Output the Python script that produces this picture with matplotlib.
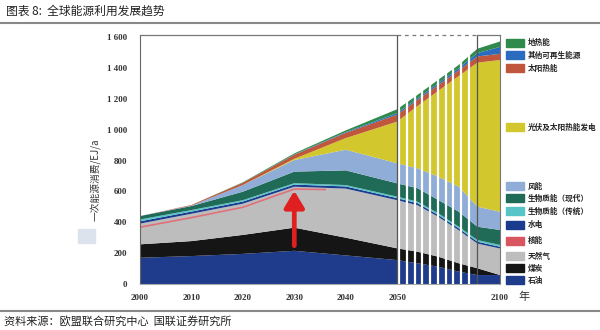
import numpy as np
import matplotlib
matplotlib.use("Agg")
import matplotlib.pyplot as plt
from matplotlib.patches import Rectangle
from matplotlib.lines import Line2D

plt.rcParams['font.family'] = ['Noto Sans CJK SC', 'DejaVu Sans']

# ---------------- data ----------------
years = [2000, 2010, 2020, 2030, 2040, 2050, 2060, 2070, 2080, 2089, 2100]
oil        = [170, 181, 195, 215, 185, 155, 134, 112, 80, 58, 58]
coal       = [87, 97, 123, 150, 115, 76, 75, 65, 54, 44, 0]
gas        = [134, 177, 202, 265, 318, 312, 301, 258, 214, 160, 172]
hydro      = [15, 14, 14, 14, 14, 13, 13, 12, 12, 12, 11]
trad_bio   = [12, 10, 9, 9, 9, 10, 10, 11, 11, 11, 12]
mod_bio    = [22, 26, 55, 75, 95, 86, 87, 86, 97, 86, 97]
wind       = [0, 3, 43, 75, 134, 130, 129, 151, 162, 130, 118]
pv         = [0, 0, 0, 8, 75, 270, 405, 556, 718, 933, 983]
solar_heat = [0, 4, 15, 26, 34, 45, 40, 38, 36, 40, 40]
other_ren  = [0, 0, 0, 2, 5, 10, 10, 12, 14, 22, 45]
geo        = [0, 0, 3, 7, 11, 25, 22, 22, 22, 28, 35]

nuclear_years = [2000, 2010, 2020, 2030, 2036]
nuclear_line  = [368, 430, 497, 615, 612]

arrow_year = 2030
arrow_from, arrow_to = 230, 622

yticks = [0, 200, 400, 600, 800, 1000, 1200, 1400, 1600]
ytick_labels = ['0', '200', '400', '600', '800', '1 000', '1 200', '1 400', '1 600']
xticks = [2000, 2010, 2020, 2030, 2040, 2050, 2100]
xtick_labels = ['2000', '2010', '2020', '2030', '2040', '2050', '2100']

names = ['石油', '煤炭', '天然气', '水电', '生物质能（传统）', '生物质能（现代）', '风能',
         '光伏及太阳热能发电', '太阳热能', '其他可再生能源', '地热能']
colors = ['#1f3c8c', '#151515', '#bdbdbd', '#1b3b8e', '#57c4c8', '#1f6b57', '#8fadd6',
          '#d3c72e', '#c0573c', '#2a6cbf', '#2f8a4c']
series = [oil, coal, gas, hydro, trad_bio, mod_bio, wind, pv, solar_heat, other_ren, geo]

# ---------------- figure ----------------
fig = plt.figure(figsize=(6, 3.3), dpi=100)
ax = fig.add_axes([140/600, 1-284/330, 360/600, 249/330])

def fwd(x):
    x = np.asarray(x, dtype=float)
    return np.where(x <= 2050, x, 2050 + (x - 2050) * 0.4)

def inv(y):
    y = np.asarray(y, dtype=float)
    return np.where(y <= 2050, y, 2050 + (y - 2050) / 0.4)

ax.set_xscale('function', functions=(fwd, inv))
ax.stackplot(years, *series, colors=colors, linewidth=0)
ax.plot(nuclear_years, nuclear_line, color='#e0707a', lw=1.2)

ax.annotate('', xy=(arrow_year, arrow_to), xytext=(arrow_year, arrow_from),
            arrowprops=dict(arrowstyle='-|>,head_width=0.6,head_length=1.0',
                            color='#e02020', lw=3.4))

# white stripes between 2050 and 2089
for s in np.arange(2051, 2087, 3.76):
    ax.axvline(s, color='white', lw=1.6, zorder=3)
ax.axvline(2050, color='#555555', lw=0.9, zorder=4)
ax.axvline(2089, color='#555555', lw=0.9, zorder=4)

ax.set_xlim(2000, 2100)
ax.set_ylim(0, 1613)

ax.spines['top'].set_visible(False)
ax.spines['left'].set_color('#666666')
ax.spines['bottom'].set_color('#aaaaaa')
ax.spines['right'].set_color('#777777')
ax.spines['right'].set_linewidth(0.8)
ax.plot([2000, 2050], [1613, 1613], color='#777777', lw=0.9, clip_on=False, zorder=5)
ax.plot([2050, 2089], [1613, 1613], color='#777777', lw=0.9, ls=(0, (3, 3)), clip_on=False, zorder=5)
ax.plot([2089, 2100], [1613, 1613], color='#777777', lw=0.9, clip_on=False, zorder=5)

ax.set_yticks(yticks)
ax.set_yticklabels(ytick_labels, family='Liberation Serif', fontsize=6.5, fontweight='bold', color='#333333')
ax.set_xticks(xticks)
ax.set_xticklabels(xtick_labels, family='Liberation Serif', fontsize=6.5, fontweight='bold', color='#333333')
ax.tick_params(axis='y', length=0, pad=9)
ax.tick_params(axis='x', length=0, pad=7)
ax.minorticks_off()

fig.text(518/600, 1-297/330, '年', fontsize=8, va='center', ha='left', color='#333333')

ax.set_ylabel('一次能源消费/EJ/a', fontsize=7, color='#333333')
ax.yaxis.set_label_coords(-0.11, 0.42)

# legend
leg_y = [43, 55, 68, 127, 186, 198, 211, 225, 241, 256, 268, 280]
leg_items = [('地热能', '#2f8a4c'), ('其他可再生能源', '#2a6cbf'), ('太阳热能', '#c0573c'),
             ('光伏及太阳热能发电', '#d3c72e'), ('风能', '#8fadd6'), ('生物质能（现代）', '#1f6b57'),
             ('生物质能（传统）', '#57c4c8'), ('水电', '#1b3b8e'), ('核能', '#d9555f'),
             ('天然气', '#bdbdbd'), ('煤炭', '#151515'), ('石油', '#1f3c8c')]
for yy, (lab, c) in zip(leg_y, leg_items):
    fig.patches.append(Rectangle((506/600, 1-(yy+4)/330), 18/600, 8/330,
                                 transform=fig.transFigure, color=c))
    fig.text(528/600, 1-yy/330, lab, fontsize=5.5, fontweight='bold', va='center', ha='left', color='#222222')

# light square artifact
fig.patches.append(Rectangle((78/600, 1-243/330), 17/600, 14/330, transform=fig.transFigure, color='#dde3ec'))

# title / source and rules
fig.text(6/600, 1-11/330, '图表 8:  全球能源利用发展趋势', fontsize=8.5, va='center', ha='left', color='#222222')
fig.lines.append(Line2D([0, 1], [1-23/330, 1-23/330], transform=fig.transFigure, color='#888888', lw=1.5))
fig.lines.append(Line2D([0, 1], [1-311/330, 1-311/330], transform=fig.transFigure, color='#888888', lw=1.5))
fig.text(4/600, 1-322/330, '资料来源：欧盟联合研究中心  国联证券研究所', fontsize=8, va='center', ha='left', color='#222222')

fig.savefig('out.png', dpi=100)
